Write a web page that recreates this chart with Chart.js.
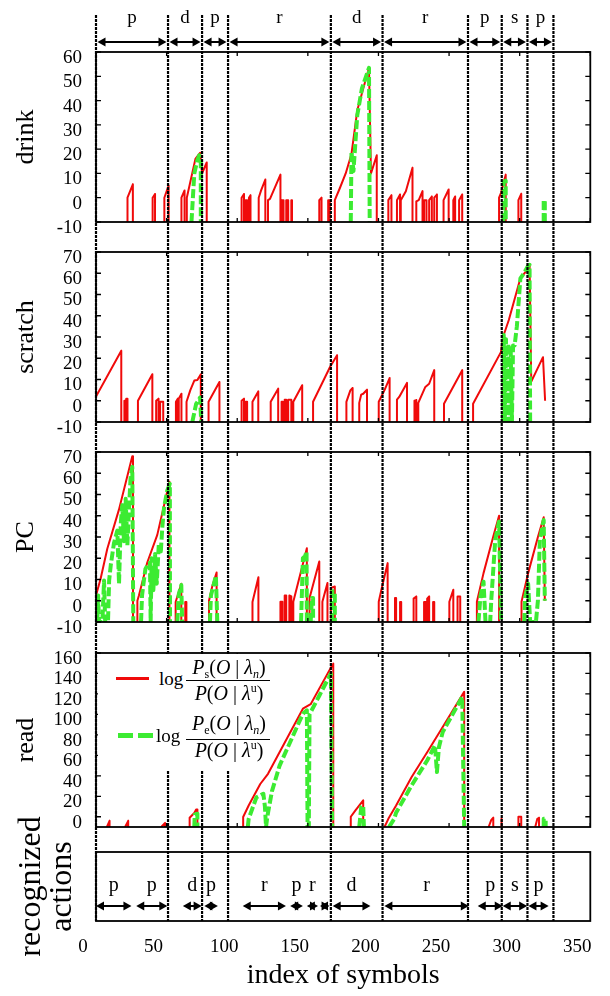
<!DOCTYPE html>
<html><head><meta charset="utf-8">
<script src="https://cdn.jsdelivr.net/npm/chart.js@4.4.1/dist/chart.umd.min.js"></script>
<style>
html,body{margin:0;padding:0;background:#fff;}
#wrap{position:relative;width:610px;height:996px;overflow:hidden;background:#fff;}
#wrap canvas{position:absolute;left:0;}
#overlay{z-index:5;}
#legend{position:absolute;left:98px;top:654px;width:150px;height:117px;background:#fff;z-index:10;overflow:visible;
  font-family:'Liberation Serif','Times New Roman',serif;color:#000;}
#legend div{position:absolute;white-space:nowrap;}
.txt{font-size:20px;line-height:20px;left:88px;width:86px;text-align:center;}
.log{font-size:19px;line-height:19px;}
.bar{left:88px;width:84px;height:1.3px;background:#000;}
i{font-style:italic;}
.sb{font-size:12px;position:relative;top:4px;line-height:0;}
.sp{font-size:12px;position:relative;top:-8px;line-height:0;}
</style></head>
<body>
<div id="wrap">
  <canvas id="cDrink"></canvas>
  <canvas id="cScratch"></canvas>
  <canvas id="cPC"></canvas>
  <canvas id="cRead"></canvas>
  <canvas id="cRec"></canvas>
  <canvas id="overlay"></canvas>
  <div id="legend">
    <div style="left:18px;top:23px;width:33px;height:3px;background:rgb(240,10,10)"></div>
    <div class="log" style="left:61px;top:15px">log</div>
    <div class="txt" style="top:3px"><i>P</i><span class="sb">s</span>(<i>O</i> | <i>λ</i><span class="sb"><i>n</i></span>)</div>
    <div class="bar" style="top:26px"></div>
    <div class="txt" style="top:29px"><i>P</i>(<i>O</i> | <i>λ</i><span class="sp">u</span>)</div>
    <div style="left:20px;top:79px;width:15px;height:5px;background:rgb(60,235,50)"></div>
    <div style="left:40px;top:79px;width:15px;height:5px;background:rgb(60,235,50)"></div>
    <div class="log" style="left:58px;top:72px">log</div>
    <div class="txt" style="top:59px"><i>P</i><span class="sb">e</span>(<i>O</i> | <i>λ</i><span class="sb"><i>n</i></span>)</div>
    <div class="bar" style="top:85px"></div>
    <div class="txt" style="top:86px"><i>P</i>(<i>O</i> | <i>λ</i><span class="sp">u</span>)</div>
  </div>
</div>
<script>
// ---------- data (x = index of symbols, y = log-likelihood ratio) ----------
const xTicks = [0, 50, 100, 150, 200, 250, 300, 350];
const drinkTicks = [-10, 0, 10, 20, 30, 40, 50, 60];
const scratchTicks = [-10, 0, 10, 20, 30, 40, 50, 60, 70];
const pcTicks = [-10, 0, 10, 20, 30, 40, 50, 60, 70];
const readTicks = [0, 20, 40, 60, 80, 100, 120, 140, 160];
const readMin = -10;

// segment boundaries (index of symbols) and true actions
const boundaries = [0, 51, 75.1, 93.5, 166.3, 202.9, 263.4, 287.3, 305.5, 323.9];
const topActions = ['p', 'd', 'p', 'r', 'd', 'r', 'p', 's', 'p'];

// recognized actions
const recStart = [0, 28.5, 61.5, 76.7, 103.9, 137.5, 149.3, 158.6, 167.6, 204.2, 270.3, 288, 306.2];
const recEnd = [25.1, 50.5, 74.8, 86.3, 134.5, 146.5, 157.2, 165.4, 194.3, 264, 288, 305.3, 320.5];
const recLabels = ['p', 'p', 'd', 'p', 'r', 'p', 'r', '', 'd', 'r', 'p', 's', 'p'];

const drinkRed = [
[22.3,-10],[22.3,0],[26.1,5.5],[26.1,-10],null,
[40.1,-10],[40.1,0],[41.8,1.5],[41.8,-10],null,
[48.4,-10],[48.4,0],[51.4,5],[51.4,-10],null,
[60.5,-10],[60.5,0],[62.7,3],[62.7,-10],null,
[64.3,-10],[64.3,0],[70.4,16],[73.7,18.5],[75.1,10],[78.4,14.5],[78.4,-10],null,
[103.1,-10],[103.1,0],[104.8,1.5],[104.8,-10],null,
[105.9,-10],[105.9,-1],[107,-1],[107,-10],null,
[108.3,-10],[108.3,0],[109.4,1],[109.4,-10],null,
[115.2,-10],[115.2,0],[116.9,3],[119.9,7.5],[119.9,-10],null,
[121.8,-10],[121.8,-1],[123.2,-0.5],[130.6,9.5],[130.6,-10],null,
[131.4,-10],[131.4,-1],[132.8,-1],[132.8,-10],null,
[134.7,-10],[134.7,-1],[136.1,-1],[136.1,-10],null,
[138.3,-10],[138.3,-1],[138.8,-1],[138.8,-10],null,
[158.1,-10],[158.1,-1],[159.7,0],[159.7,-10],null,
[164.4,-10],[164.4,-1],[165.5,-1],[165.5,-10],null,
[169.1,-10],[169.1,-1],[172.7,4],[176.8,10],[180.9,18],[185,36],[193.3,53.5],[194.7,10],[198.8,17.5],[198.8,-10],null,
[207,-10],[207,-1],[209.2,1],[209.2,-10],null,
[213.1,-10],[213.1,-1],[215.3,1.3],[215.3,-10],null,
[215.8,-10],[215.8,-1],[219.4,2.7],[224.1,12.3],[224.1,-10],null,
[226.8,-10],[226.8,-1.5],[228.5,-1],[231.2,2.7],[231.2,-10],null,
[232.3,-10],[232.3,-1],[234,-1],[234,-10],null,
[235.9,-10],[235.9,-1],[237.8,0.5],[237.8,-10],null,
[239.5,-10],[239.5,0],[241.4,1.3],[241.4,-10],null,
[246.1,-10],[246.1,-1],[249.7,3.4],[249.7,-10],null,
[253,-10],[253,-1],[254.3,0.5],[254.3,-10],null,
[257.1,-10],[257.1,-1],[259.3,1.3],[259.3,-10],null,
[285.4,-10],[285.4,0],[286.8,2],[290.1,9.5],[290.1,-10],null,
[299.1,-10],[299.1,-1],[301.1,1.6],[301.1,-10]
];
const drinkGreen = [
[67.6,-10],[69.6,10],[71.8,15.5],[73.1,17.5],[74.2,16],[74.2,-10],null,
[180.4,-10],[180.9,19],[182.3,11],[185,34],[188.3,45],[193.3,53.5],[193.8,-10],null,
[288.4,-10],[288.7,6.5],[290.1,7],[290.1,-10],null,
[317,-10],[317,-1],[317.8,-1],[317.8,-10]
];

const scratchRed = [
[0,2],[17.9,23.5],[17.9,-10],null,
[20.1,-10],[20.1,0],[20.6,0],[20.6,-10],null,
[21.4,-10],[21.4,1],[22.3,1],[22.3,-10],null,
[29.7,-10],[29.7,0],[39.9,12.5],[39.9,-10],null,
[42.6,-10],[42.6,0],[44.3,1],[44.3,-10],null,
[45.4,-10],[45.4,-0.5],[47.6,-0.5],[47.6,-10],null,
[56.6,-10],[56.6,-0.5],[58,1],[58,-10],null,
[58.6,-10],[58.6,1],[60.5,3.3],[60.5,-10],null,
[64.1,-10],[64.1,-0.5],[66.8,5],[69.6,9.5],[71.8,9.8],[72.9,11],[74.2,12.5],[74.2,-10],null,
[79.7,-10],[79.7,-0.5],[87.4,8.8],[87.4,-10],null,
[103.1,-10],[103.1,0],[104.8,1],[104.8,-10],null,
[105.9,-10],[105.9,-0.5],[107,-0.5],[107,-10],null,
[110.8,-10],[110.8,-0.5],[114.9,4.4],[114.9,-10],null,
[123.7,-10],[123.7,-0.5],[129,5.7],[129,-10],null,
[131.4,-10],[131.4,-0.5],[132.3,-0.5],[132.3,-10],null,
[133.6,-10],[133.6,0.5],[134.7,0.5],[134.7,-10],null,
[136.1,-10],[136.1,0.5],[138.3,0.5],[138.3,-10],null,
[139.7,-10],[139.7,-0.5],[146,7.3],[146,-10],null,
[153.7,-10],[153.7,-0.5],[165.8,16],[170.7,21.4],[170.7,-10],null,
[177.3,-10],[177.3,-0.5],[180.1,4.9],[181.7,6],[181.7,-10],null,
[186.4,-10],[186.4,-1],[187.8,2.9],[189.2,3.3],[191.9,5.2],[191.9,-10],null,
[200.2,-10],[200.2,-0.5],[204.3,5],[207.9,10.7],[207.9,-10],null,
[213.1,-10],[213.1,0.5],[214.7,1.8],[220.2,8.4],[220.2,-10],null,
[225.5,-10],[225.5,0],[226.8,0.3],[226.8,-10],null,
[228.2,-10],[228.2,-1],[233.2,6.5],[235.9,8],[239.5,14.4],[239.5,-10],null,
[246.4,-10],[246.4,-1.4],[259.3,14.4],[259.3,-10],null,
[267,-10],[267,-1.4],[286.8,23],[288.2,30],[292.3,38],[300.5,57.6],[304.6,61],[307,64],[308.2,9],[316.5,20.5],[318,0]
];
const scratchGreen = [
[68.2,-10],[70.9,-1.5],[72.9,0.5],[73.7,1.5],[74.5,-10],null,
[288.2,-10],[288.7,31],[289.5,-10],[290.3,29],[291.1,-10],[292,27],[292.8,-10],[293.6,26],[294.5,-10],[295.3,26],[296.4,26],[298,35],[300.5,57.6],[303,60],[305.5,63],[307,64],[307.4,-10]
];

const pcRed = [
[0,2.5],[3.3,10.5],[8,24.5],[16.3,43],[25.7,68],[26.2,68],[26.2,-10],null,
[29.3,-10],[29.3,0],[30.4,2.5],[36.3,18],[43.4,31],[52,56],[52,-10],null,
[56.4,-10],[56.4,-0.6],[60.4,8],[60.4,-10],null,
[63.2,-10],[63.2,-0.6],[64,-0.6],[64,-10],null,
[80,-10],[80,0],[82.4,7],[85.4,13.3],[85.4,-10],null,
[110.8,-10],[110.8,-0.6],[115,11.1],[115,-10],null,
[130.6,-10],[130.6,-0.5],[132,-0.5],[132,-10],null,
[133.6,-10],[133.6,2.5],[134.7,2.5],[134.7,-10],null,
[136.9,-10],[136.9,2.5],[138.3,2],[138.3,-10],null,
[139.7,-10],[139.7,-0.5],[149.3,24.7],[149.3,-10],null,
[151.2,-10],[151.2,1.3],[158.1,18.5],[158.1,-10],null,
[160.3,-10],[160.3,-0.5],[163.9,8.3],[163.9,-10],null,
[166.3,-10],[166.3,6],[169.1,6.7],[169.1,-10],null,
[200.2,-10],[200.2,-0.5],[202,5],[206.5,17.7],[206.5,-10],null,
[211.7,-10],[211.7,1.3],[212.5,1.3],[212.5,-10],null,
[215.3,-10],[215.3,-0.6],[216.1,-0.6],[216.1,-10],null,
[224.9,-10],[224.9,1],[226.8,2],[226.8,-10],null,
[232.3,-10],[232.3,-0.6],[233.4,-0.6],[233.4,-10],null,
[234.5,-10],[234.5,1],[235.9,2],[235.9,-10],null,
[238.7,-10],[238.7,-0.6],[239.5,-0.6],[239.5,-10],null,
[250.2,-10],[250.2,-0.5],[253,5.2],[253,-10],null,
[256,-10],[256,2],[257.9,2],[257.9,-10],null,
[269.7,-10],[269.7,-0.5],[274.4,13],[281.3,30.2],[285.4,40],[285.4,-10],null,
[301.3,-10],[301.3,-0.5],[306,13],[312.9,30],[317,39.3],[317.8,0]
];
const pcGreen = [
[0.9,-10],[1.5,2.5],[2.1,-10],[4.5,-10],[5.7,9.5],[6.5,-10],[8.5,-10],[9.3,9.5],[10.5,17],[12.7,27],[15.1,33],[16.3,8],[17.5,36],[18.6,45],[19.8,28],[21,48],[22.2,26],[23.4,44],[24.5,58],[25.7,63],[26.4,-10],null,
[31.9,-10],[32.6,2.5],[34,10],[35,15],[36.7,17],[38.2,18],[38.7,-10],[39.4,20],[40.6,5],[41.8,22],[43,8],[44.5,27],[45.8,22],[47,35],[48.2,44],[50.5,52],[52.3,55],[52.4,-10],null,
[57.6,-10],[58.6,3],[60.4,7.4],[61,-10],null,
[80.7,-10],[81.4,2.5],[84.9,11.7],[85.9,-10],null,
[145.2,-10],[146.5,20],[148,21],[149.1,23],[149.3,-10],null,
[152,-10],[152.9,1.3],[153.7,1.3],[153.7,-10],null,
[167.2,-10],[167.2,4.5],[169.1,4.5],[169.1,-10],null,
[270.8,-10],[272.2,2],[274.4,9],[275.8,-10],[279.1,-10],[279.9,0.5],[282.7,28.7],[285.4,37.3],[286.8,-10],null,
[303.3,-10],[303.8,1.3],[305,5],[306,8],[307.4,-10],[311.5,-10],[312.9,0],[314.3,28.7],[317,38],[317.8,0]
];

const readRed = [
[7.7,-10],[9.6,-4],[9.6,-10],null,
[20.6,-10],[22.8,-4],[22.8,-10],null,
[46.2,-10],[48.9,-6],[48.9,-10],null,
[66.3,-10],[66.3,-1],[69.6,3.7],[70.9,7],[71.8,7],[71.8,-10],null,
[104.2,-10],[104.2,-0.2],[108.1,11],[116.3,32],[121.8,42],[146.5,105.6],[152,110],[166.3,145.7],[168,149.6],[168,-10],null,
[180.4,-10],[180.4,0],[183.7,6.3],[189.2,16],[189.2,-10],null,
[204.3,-10],[207,-2],[212.5,11],[223.5,38.8],[234.5,63],[245.5,87.7],[260.7,122],[260.7,-10],null,
[278,-10],[279.9,-3],[281.3,-1],[281.3,-10],null,
[286.8,-10],[286.8,-2],[287.3,-2],[287.3,-10],null,
[299.1,-10],[299.1,0],[301.1,0],[301.1,-10],null,
[311,-10],[312.5,-2],[313.7,-1],[313.7,-10]
];
const readGreen = [
[69.6,-10],[69.9,2],[71.8,3],[71.8,-10],null,
[107.5,-10],[108.1,-2],[113.6,19],[118.5,22.5],[119.6,10],[120.4,-10],[121.3,0],[124.6,25],[130,50],[146.5,100.7],[149.3,104],[149.8,-10],[150.7,-10],[151.2,100],[158,118],[166.3,140],[167.2,-10],null,
[186.4,-10],[187.8,9.4],[189.2,11],[189.7,-10],null,
[207.5,-10],[211.2,-2],[212.5,4],[223.5,30.7],[234.5,55],[240,69.8],[241.4,43.7],[242.8,68],[245.5,82.7],[259.3,117],[260.7,-10],null,
[317,-10],[317,-2],[318.4,-2],[318.4,-10]
];

// ---------- styles ----------
const RED = 'rgb(240,10,10)';
const GREEN = 'rgb(60,235,50)';
const FONT = "'Liberation Serif','Times New Roman',serif";
Chart.defaults.font.family = FONT;
Chart.defaults.color = '#000';

const toXY = pts => pts.map(p => p ? {x: p[0], y: p[1]} : {x: null, y: null});
const noPad = s => { s.paddingLeft = 0; s.paddingRight = 0; s.paddingTop = 0; s.paddingBottom = 0; };

const framePlugin = {
  id: 'frame',
  afterDatasetsDraw(chart, args, opts) {
    const {ctx, chartArea: a} = chart;
    ctx.save();
    ctx.strokeStyle = '#000';
    ctx.lineWidth = 1.8;
    ctx.strokeRect(a.left, a.top, a.right - a.left, a.bottom - a.top);
    if (opts.ticks) {
      const ys = chart.scales.y, xs = chart.scales.x;
      ctx.lineWidth = 1.3;
      ctx.beginPath();
      ys.ticks.forEach(t => {
        const p = ys.getPixelForValue(t.value);
        ctx.moveTo(a.left, p); ctx.lineTo(a.left + 5, p);
        ctx.moveTo(a.right, p); ctx.lineTo(a.right - 5, p);
      });
      xTicks.forEach(v => {
        const p = xs.getPixelForValue(v);
        ctx.moveTo(p, a.top); ctx.lineTo(p, a.top + 4);
        ctx.moveTo(p, a.bottom); ctx.lineTo(p, a.bottom - 4);
      });
      ctx.stroke();
    }
    ctx.restore();
  }
};

function makePanel(id, top, frameH, red, green, ticks, yMin, title) {
  const c = document.getElementById(id);
  c.width = 610; c.height = frameH + 44; c.style.top = top + 'px';
  new Chart(c, {
    type: 'line',
    data: {datasets: [
      {data: toXY(green), borderColor: GREEN, borderWidth: 4, borderDash: [9, 3], order: 1},
      {data: toXY(red), borderColor: RED, borderWidth: 2, order: 2}
    ]},
    options: {
      responsive: false, animation: false, events: [],
      layout: {padding: {left: 0, right: 19.7, top: 22, bottom: 22}},
      plugins: {legend: {display: false}, tooltip: {enabled: false}, frame: {ticks: true}},
      elements: {point: {radius: 0}, line: {tension: 0, fill: false, borderJoinStyle: 'round', borderCapStyle: 'butt'}},
      scales: {
        x: {type: 'linear', min: 0, max: 350, display: false},
        y: {
          type: 'linear', min: yMin, max: ticks[ticks.length - 1],
          afterBuildTicks: s => { s.ticks = ticks.map(v => ({value: v})); },
          afterFit: s => { s.width = 96; noPad(s); },
          grid: {display: false, drawTicks: false}, border: {display: false},
          ticks: {padding: 14, labelOffset: 6, font: {size: 19}, color: '#000', autoSkip: false},
          title: {display: true, text: title, font: {size: 26}, padding: {top: 11, bottom: 0}, color: '#000'}
        }
      }
    },
    plugins: [framePlugin]
  });
}

makePanel('cDrink', 30, 170, drinkRed, drinkGreen, drinkTicks, drinkTicks[0], 'drink');
makePanel('cScratch', 230, 170, scratchRed, scratchGreen, scratchTicks, scratchTicks[0], 'scratch');
makePanel('cPC', 430, 170, pcRed, pcGreen, pcTicks, pcTicks[0], 'PC');
makePanel('cRead', 631, 174, readRed, readGreen, readTicks, readMin, 'read');

// bottom: recognized actions box + x axis
(function () {
  const c = document.getElementById('cRec');
  c.width = 610; c.height = 196; c.style.top = '800px';
  new Chart(c, {
    type: 'line',
    data: {datasets: []},
    options: {
      responsive: false, animation: false, events: [],
      layout: {padding: {left: 0, right: 19.7, top: 52, bottom: 0}},
      plugins: {legend: {display: false}, tooltip: {enabled: false}, frame: {ticks: false}},
      scales: {
        x: {
          type: 'linear', min: 0, max: 350,
          afterBuildTicks: s => { s.ticks = xTicks.map(v => ({value: v})); },
          afterFit: s => { s.height = 75; noPad(s); },
          grid: {display: false, drawTicks: false}, border: {display: false},
          ticks: {padding: 15, labelOffset: -13, font: {size: 19}, color: '#000', maxRotation: 0, autoSkip: false},
          title: {display: true, text: 'index of symbols', font: {size: 28}, padding: {top: 0, bottom: 4}, color: '#000'}
        },
        y: {
          type: 'linear', min: 0, max: 1,
          afterFit: s => { s.width = 96; noPad(s); },
          grid: {display: false, drawTicks: false}, border: {display: false},
          ticks: {display: false},
          title: {display: true, text: ['recognized', 'actions'], font: {size: 32, lineHeight: 0.94}, padding: {top: 17, bottom: 0}, color: '#000'}
        }
      }
    },
    plugins: [framePlugin]
  });
})();

// overlay: segment boundaries, true actions (top) and recognized actions (bottom)
function arrow(ctx, x1, x2, y) {
  const hl = 8, hw = 4.5;
  ctx.beginPath(); ctx.moveTo(x1 + 2, y); ctx.lineTo(x2 - 2, y); ctx.stroke();
  ctx.beginPath(); ctx.moveTo(x1, y); ctx.lineTo(x1 + hl, y - hw); ctx.lineTo(x1 + hl, y + hw); ctx.closePath(); ctx.fill();
  ctx.beginPath(); ctx.moveTo(x2, y); ctx.lineTo(x2 - hl, y - hw); ctx.lineTo(x2 - hl, y + hw); ctx.closePath(); ctx.fill();
}
const overlayPlugin = {
  id: 'overlay',
  afterDraw(chart) {
    const ctx = chart.ctx, xs = chart.scales.x;
    ctx.save();
    ctx.strokeStyle = '#000'; ctx.fillStyle = '#000';
    ctx.lineWidth = 2.2; ctx.setLineDash([3, 1]);
    boundaries.forEach(b => {
      const p = xs.getPixelForValue(b);
      ctx.beginPath(); ctx.moveTo(p, 15); ctx.lineTo(p, 921); ctx.stroke();
    });
    ctx.setLineDash([]);
    ctx.lineWidth = 2;
    ctx.textAlign = 'center'; ctx.textBaseline = 'alphabetic';
    ctx.font = "19px " + FONT;
    for (let i = 0; i < topActions.length; i++) {
      const a = xs.getPixelForValue(boundaries[i]) + 1.5, b = xs.getPixelForValue(boundaries[i + 1]) - 1.5;
      arrow(ctx, a, b, 42);
      ctx.fillText(topActions[i], (a + b) / 2, 22.5);
    }
    ctx.font = "20px " + FONT;
    for (let i = 0; i < recLabels.length; i++) {
      const a = xs.getPixelForValue(recStart[i]), b = xs.getPixelForValue(recEnd[i]);
      arrow(ctx, a, b, 906);
      if (recLabels[i]) ctx.fillText(recLabels[i], (a + b) / 2, 891);
    }
    ctx.restore();
  }
};
(function () {
  const c = document.getElementById('overlay');
  c.width = 610; c.height = 996; c.style.top = '0px';
  new Chart(c, {
    type: 'line',
    data: {datasets: []},
    options: {
      responsive: false, animation: false, events: [],
      layout: {padding: {left: 96, right: 19.7, top: 0, bottom: 0}},
      plugins: {legend: {display: false}, tooltip: {enabled: false}},
      scales: {
        x: {type: 'linear', min: 0, max: 350, display: false},
        y: {type: 'linear', min: 0, max: 1, display: false}
      }
    },
    plugins: [overlayPlugin]
  });
})();
</script>
</body></html>
